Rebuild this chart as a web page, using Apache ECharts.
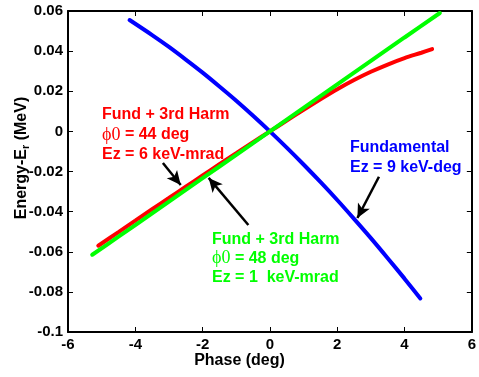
<!DOCTYPE html>
<html>
<head>
<meta charset="utf-8">
<script src="https://cdn.jsdelivr.net/npm/echarts@6/dist/echarts.min.js"></script>
<style>html,body{margin:0;padding:0;background:#fff}#c{width:479px;height:377px}</style>
</head>
<body>
<div id="c"></div>
<script>
// Phase (deg) and Energy-Er (MeV) values
const phaseFund = [-4.17, -3.5, -3, -2.5, -2, -1.5, -1, -0.5, 0, 0.5, 1, 1.5, 2, 2.5, 3, 3.5, 4, 4.47];
const energyFund = [0.0555, 0.0480, 0.0421, 0.0358, 0.0293, 0.0224, 0.0153, 0.0078, 0, -0.0081, -0.0165, -0.0252, -0.0342, -0.0436, -0.0532, -0.0632, -0.0734, -0.0833];

const phase44 = [-5.1, -4.5, -4, -3.5, -3, -2.5, -2, -1.5, -1, -0.5, 0, 0.5, 1, 1.5, 2, 2.5, 3, 3.5, 4, 4.5, 4.82];
const energy44 = [-0.057, -0.0502, -0.0445, -0.0388, -0.0332, -0.0276, -0.0220, -0.0164, -0.0109, -0.0054, 0, 0.0054, 0.0108, 0.0160, 0.0210, 0.0256, 0.0297, 0.0333, 0.0365, 0.0392, 0.0410];

const phase48 = [-5.28, -4.5, -4, -3, -2, -1, 0, 1, 2, 3, 4, 5.05];
const energy48 = [-0.0615, -0.0525, -0.0467, -0.035, -0.0233, -0.0117, 0, 0.0117, 0.0234, 0.0351, 0.0468, 0.059];

const xTicks = {min: -6, max: 6, interval: 2};
const yTicks = {min: -0.1, max: 0.06, interval: 0.02};

// arrows: [tail, tip] in data coordinates
const arrow44 = [[-3.18, -0.0158], [-2.65, -0.0267]];
const arrow48 = [[-0.64, -0.0467], [-1.82, -0.0232]];
const arrowFund = [[3.24, -0.0226], [2.60, -0.0432]];

const zip = (xs, ys) => xs.map((x, i) => [x, ys[i]]);

const chart = echarts.init(document.getElementById('c'));
const font = 'Liberation Sans, Arial, sans-serif';
const axisCommon = {
  axisLine: {show: true, onZero: false, lineStyle: {color: '#000', width: 2}},
  axisTick: {show: true, inside: true, length: 5, lineStyle: {color: '#000', width: 1}},
  splitLine: {show: false}
};
function arrowLine(pts) {
  return {
    silent: true,
    symbol: ['none', 'arrow'],
    symbolSize: [10, 14],
    label: {show: false},
    lineStyle: {color: '#000', width: 2.5, type: 'solid'},
    data: [[{coord: pts[0]}, {coord: pts[1]}]]
  };
}
const rich = {
  phi: {fontFamily: 'Liberation Serif, DejaVu Serif, serif', fontWeight: 'normal', fontSize: 18}
};
chart.setOption({
  animation: false,
  backgroundColor: '#fff',
  grid: {left: 68, right: 4, top: 11, bottom: 45},
  xAxis: [
    Object.assign({type: 'value', position: 'bottom', min: xTicks.min, max: xTicks.max, interval: xTicks.interval,
      axisLabel: {color: '#000', fontFamily: font, fontWeight: 'bold', fontSize: 15, margin: 5}}, axisCommon),
    Object.assign({type: 'value', position: 'top', min: xTicks.min, max: xTicks.max, interval: xTicks.interval,
      axisLabel: {show: false}}, axisCommon)
  ],
  yAxis: [
    Object.assign({type: 'value', position: 'left', min: yTicks.min, max: yTicks.max, interval: yTicks.interval,
      axisLabel: {color: '#000', fontFamily: font, fontWeight: 'bold', fontSize: 15, margin: 5,
        formatter: v => String(Math.round(v * 100) / 100)}}, axisCommon),
    Object.assign({type: 'value', position: 'right', min: yTicks.min, max: yTicks.max, interval: yTicks.interval,
      axisLabel: {show: false}}, axisCommon)
  ],
  series: [
    {type: 'line', data: zip(phaseFund, energyFund), smooth: 0.3, showSymbol: false,
      lineStyle: {color: '#0000ff', width: 4, cap: 'round'}, z: 2,
      markLine: arrowLine(arrowFund)},
    {type: 'line', data: zip(phase44, energy44), smooth: 0.3, showSymbol: false,
      lineStyle: {color: '#ff0000', width: 4, cap: 'round'}, z: 3,
      markLine: arrowLine(arrow44)},
    {type: 'line', data: zip(phase48, energy48), smooth: 0.3, showSymbol: false,
      lineStyle: {color: '#00ff00', width: 4, cap: 'round'}, z: 4,
      markLine: arrowLine(arrow48)}
  ],
  graphic: [
    {type: 'text', left: 'center', top: 353, style: {text: 'Phase (deg)', fill: '#000', font: 'bold 16px ' + font}},
    {type: 'text', x: 22, y: 158, rotation: Math.PI / 2,
      style: {text: 'Energy-E{sub|r} (MeV)', fill: '#000', font: 'bold 16px ' + font, align: 'center', verticalAlign: 'middle',
        rich: {sub: {fontSize: 11, fontWeight: 'bold', fontFamily: font, padding: [8, 0, 0, 0], fill: '#000'}}}},
    {type: 'text', x: 102, y: 105, z: 100,
      style: {text: 'Fund + 3rd Harm\n{phi|ϕ0} = 44 deg\nEz = 6 keV-mrad', fill: '#ff0000', font: 'bold 16px ' + font,
        lineHeight: 20, rich: rich}},
    {type: 'text', x: 212, y: 230, z: 100,
      style: {text: 'Fund + 3rd Harm\n{phi|ϕ0} = 48 deg\nEz = 1  keV-mrad', fill: '#00ff00', font: 'bold 16px ' + font,
        lineHeight: 19, rich: rich}},
    {type: 'text', x: 350, y: 138, z: 100,
      style: {text: 'Fundamental\nEz = 9 keV-deg', fill: '#0000ff', font: 'bold 16px ' + font, lineHeight: 20}}
  ]
});
</script>
</body>
</html>
